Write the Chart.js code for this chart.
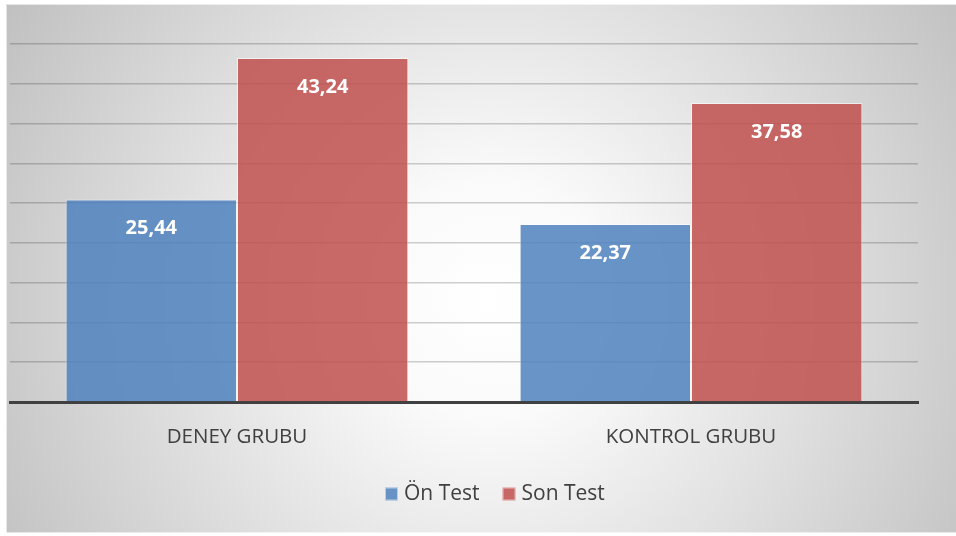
<!DOCTYPE html>
<html>
<head>
<meta charset="utf-8">
<script src="https://cdn.jsdelivr.net/npm/chart.js@4.4.1/dist/chart.umd.min.js"></script>
<style>
  html, body { margin: 0; padding: 0; background: #ffffff; }
  #wrap { width: 956px; height: 536px; position: relative; }
</style>
</head>
<body>
<div id="wrap"><canvas id="c" width="956" height="536"></canvas></div>
<script>
const categories = ["DENEY GRUBU", "KONTROL GRUBU"];
const seriesNames = ["Ön Test", "Son Test"];
const onTest = [25.44, 22.37];
const sonTest = [43.24, 37.58];
const yTicks = [0, 5, 10, 15, 20, 25, 30, 35, 40, 45];

const bgPlugin = {
  id: 'bg',
  beforeDraw(chart) {
    const ctx = chart.ctx;
    ctx.save();
    ctx.fillStyle = '#ffffff';
    ctx.fillRect(0, 0, chart.width, chart.height);
    const g = ctx.createRadialGradient(490, 300, 0, 490, 300, 600);
    g.addColorStop(0, '#ffffff');
    g.addColorStop(0.2, '#fafafa');
    g.addColorStop(1, '#bcbcbc');
    ctx.fillStyle = g;
    ctx.fillRect(6, 4, 950, 529);
    ctx.strokeStyle = 'rgba(255,255,255,0.6)';
    ctx.lineWidth = 1;
    ctx.beginPath();
    ctx.moveTo(6.5, 533); ctx.lineTo(6.5, 4.5); ctx.lineTo(956, 4.5);
    ctx.moveTo(6, 532.5); ctx.lineTo(956, 532.5);
    ctx.stroke();
    ctx.restore();
  }
};

const labelPlugin = {
  id: 'vals',
  afterDatasetsDraw(chart) {
    const ctx = chart.ctx;
    ctx.save();
    ctx.fillStyle = '#ffffff';
    ctx.font = 'bold 20px "Open Sans", sans-serif';
    ctx.textAlign = 'center';
    ctx.textBaseline = 'middle';
    chart.data.datasets.forEach((ds, di) => {
      chart.getDatasetMeta(di).data.forEach((bar, i) => {
        const txt = ds.data[i].toFixed(2).replace('.', ',');
        ctx.fillText(txt, bar.x, bar.y + 29);
      });
    });
    ctx.restore();
  }
};

const legendPlugin = {
  id: 'customLegend',
  afterDraw(chart) {
    const ctx = chart.ctx;
    ctx.save();
    ctx.font = '21px "Open Sans", sans-serif';
    ctx.textBaseline = 'middle';
    ctx.textAlign = 'left';
    let x = 385;
    const cy = 494;
    chart.data.datasets.forEach((ds) => {
      ctx.fillStyle = ds.backgroundColor;
      ctx.fillRect(x, cy - 6.5, 13, 13);
      ctx.strokeStyle = 'rgba(255,255,255,0.55)';
      ctx.lineWidth = 1;
      ctx.strokeRect(x + 0.5, cy - 6, 12, 12);
      x += 13 + 6;
      ctx.fillStyle = '#404040';
      ctx.fillText(ds.label, x, cy);
      x += ctx.measureText(ds.label).width + 23;
    });
    ctx.restore();
  }
};

new Chart(document.getElementById('c'), {
  type: 'bar',
  data: {
    labels: categories,
    datasets: [
      { label: seriesNames[0], data: onTest,
        backgroundColor: 'rgba(79,129,189,0.85)', borderColor: 'rgba(255,255,255,0.55)', borderWidth: 1 },
      { label: seriesNames[1], data: sonTest,
        backgroundColor: 'rgba(192,80,77,0.85)', borderColor: 'rgba(255,255,255,0.55)', borderWidth: 1 }
    ]
  },
  options: {
    responsive: false,
    animation: false,
    devicePixelRatio: 1,
    layout: { padding: { left: 10, right: 38, top: 44, bottom: 62 } },
    datasets: { bar: { categoryPercentage: 0.755, barPercentage: 1.0 } },
    scales: {
      x: {
        grid: { display: false },
        border: { display: true, color: '#404040', width: 3 },
        ticks: { color: '#404040', font: { family: '"Open Sans", sans-serif', size: 20.5 }, padding: 15 },
        afterFit(s) { s.height = 72; }
      },
      y: {
        min: 0, max: 45,
        afterBuildTicks(s) { s.ticks = yTicks.map(v => ({ value: v })); },
        ticks: { display: false },
        grid: { color: 'rgba(0,0,0,0.19)', lineWidth: 1.5, drawTicks: false },
        border: { display: false },
        afterFit(s) { s.width = 0; }
      }
    },
    plugins: {
      legend: { display: false },
      tooltip: { enabled: false }
    }
  },
  plugins: [bgPlugin, labelPlugin, legendPlugin]
});
</script>
</body>
</html>
